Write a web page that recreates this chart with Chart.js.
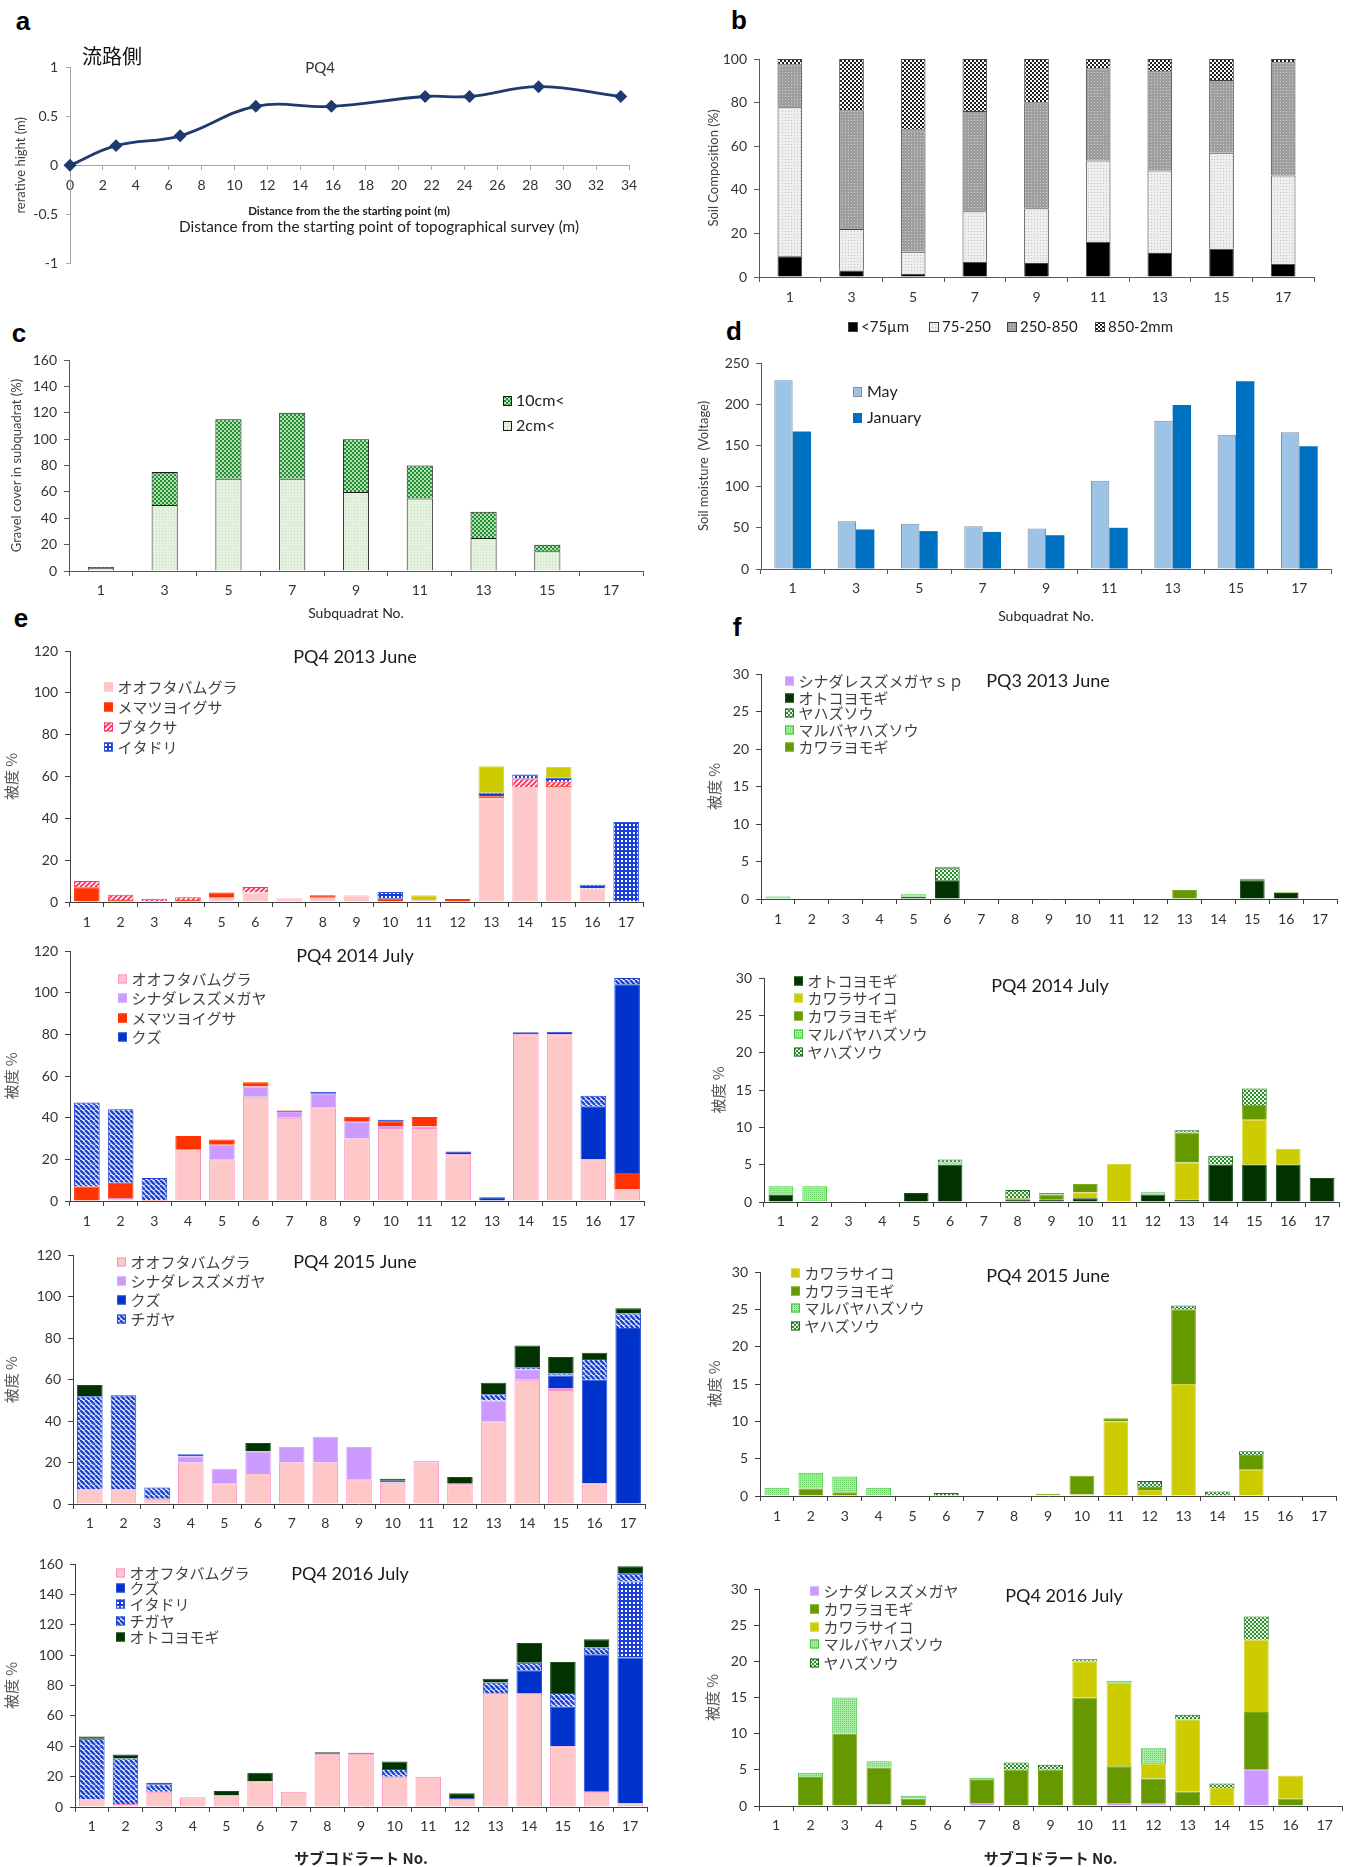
<!DOCTYPE html>
<html><head><meta charset="utf-8">
<script src="https://cdn.jsdelivr.net/npm/chart.js@4.4.1/dist/chart.umd.min.js"></script>
<style>
html,body{margin:0;padding:0;background:#fff;}
body{position:relative;width:1352px;height:1867px;overflow:hidden;}
.lbl{position:absolute;font:bold 26px "Liberation Sans",Arial,sans-serif;color:#000;transform:translate(-50%,-50%);line-height:1;}
</style></head><body>
<div class="lbl" style="left:23px;top:21px">a</div>
<div class="lbl" style="left:739px;top:20px">b</div>
<div class="lbl" style="left:19px;top:333px">c</div>
<div class="lbl" style="left:734px;top:331px">d</div>
<div class="lbl" style="left:21px;top:618px">e</div>
<div class="lbl" style="left:737px;top:627px">f</div>
<script>
// ---------------- DATA ----------------
// a: topographic profile
const distX = [0, 2.8, 6.7, 11.3, 15.9, 21.6, 24.3, 28.5, 33.5];
const relHeight = [0, 0.2, 0.3, 0.6, 0.6, 0.7, 0.7, 0.8, 0.7];
// b, c, d categories
const subquadratsOdd = ['1','3','5','7','9','11','13','15','17'];
const subquadrats = ['1','2','3','4','5','6','7','8','9','10','11','12','13','14','15','16','17'];
// b: soil composition (%)
const soilLt75 = [9.5, 3, 1.5, 7, 6.4, 16.2, 11, 13, 6.1];
const soil75to250 = [68.4, 19, 10.1, 23.2, 25.1, 37.2, 37.9, 44, 40.5];
const soil250to850 = [19.7, 54.5, 56.2, 46, 48.7, 42.3, 45.5, 33.4, 51.9];
const soil850to2mm = [2.4, 23.5, 32.2, 23.8, 19.8, 4.3, 5.6, 9.6, 1.5];
// c: gravel cover (%)
const gravel2cm = [2, 50, 70, 70, 60, 55, 25, 15, 0];
const gravel10cm = [1, 25, 45, 50, 40, 25, 20, 5, 0];
// d: soil moisture
const moistMay = [229, 58, 55, 52, 49, 107, 180, 163, 166];
const moistJan = [167, 48, 46, 45, 41, 50, 199, 228, 149];
// e: PQ4 2013 June
const e13_oofuta = [0,0,0,0,2,4.5,1.8,2,3.2,0,1,0,49.5,55,55,6.5,0];
const e13_memat = [7,1,0.3,1,2.5,0,0,1.2,0,1.5,0,1.4,1,0,0.5,0,0];
const e13_butakusa = [3,2.5,1.3,1.3,0,2.7,0,0,0,0,0,0,0,4,2,0,0];
const e13_itadori = [0,0,0,0,0,0,0,0,0,3.3,0,0,1.7,2,2,1.7,38.2];
const e13_kawarasaiko = [0,0,0,0,0,0,0,0,0,0,2.2,0,12.7,0,5,0,0];
// e: PQ4 2014 July
const e14_oofuta = [0,1.5,0,25,20,50,40,45,30,35,35,22.5,0,80,80,20,5.5];
const e14_shinadare = [0,0,0,0,7,5,2.7,6.5,8,1,0.8,0,0,0,0,0,0];
const e14_memat = [7,7.3,0.5,6.2,2.5,2,0.8,0,2.5,2,4.5,0,0,0,0,0,8];
const e14_kuzu = [0,0,0,0,0,0,0,1,0,1,0,1.3,1.8,1,1.3,25.5,90.5];
const e14_chigaya = [40.3,35.2,10.5,0,0,0,0,0,0,0,0,0,0,0,0,5,3];
// e: PQ4 2015 June
const e15_oofuta = [7,7,2.5,20,10,15,20,20,12,10,20,9.5,40,60,55,10,0];
const e15_shinadare = [0,0,0,3,7,10.5,7.5,12.5,15.5,0.5,0.7,0,10,5,1,0,0];
const e15_kuzu = [0,0,0,1,0,0,0,0,0,0.7,0,0.5,0,0,6,50,85];
const e15_chigaya = [45,45.5,5.5,0,0,0,0,0,0,0,0,0,3,1,1,10,7];
const e15_otoko = [5.5,0,0,0,0,4,0,0,0,1,0,3,5.5,10.5,8,3,2.5];
// e: PQ4 2016 July
const e16_oofuta = [5,2,10,6.5,7.5,17,10,35,35,20,20,5,75,75,40,10,2.5];
const e16_kuzu = [0,0,0,0,0,0,0,0,0,0,0,1,0,15,26,90.5,96];
const e16_itadori = [0,0,0,0,0,0,0,0,0,0,0,0,0,0,0,0,50];
const e16_chigaya = [40,30,5,0,0,0,0,0,0,5,0,0,7,5,9,4.5,5];
const e16_otoko = [1.5,2.5,1,0,3,5.5,0,1,0.8,5,0,3,2.5,13,20.5,5.5,5];
// f: PQ3 2013 June
const f13_shinadare = [0,0,0,0,0,0,0,0,0,0,0,0,0,0,0,0,0];
const f13_otoko = [0,0,0,0,0.3,2.5,0,0,0,0,0,0,0,0,2.5,0.8,0];
const f13_yahazu = [0,0,0,0,0,1.6,0,0,0,0,0,0,0,0,0,0,0];
const f13_maruba = [0.35,0,0,0,0.35,0,0,0,0,0,0,0,0,0,0,0,0];
const f13_kawarayomogi = [0,0,0,0,0,0.2,0,0,0,0,0,0,1.2,0,0.2,0.1,0];
// f: PQ4 2014 July
const f14_otoko = [1,0,0,0,1.2,5,0,0.3,0.3,0.5,0,1,0.3,5,5,5,3.2];
const f14_kawarasaiko = [0,0,0,0,0,0,0,0,0,0.8,5.1,0,5,0,6,2.1,0];
const f14_kawarayomogi = [0,0,0.1,0,0,0,0,0.2,0.7,1.1,0,0,4,0,2,0,0];
const f14_maruba = [1.1,2.1,0,0,0,0.3,0,0,0,0,0,0.3,0,0,0,0,0];
const f14_yahazu = [0,0,0,0,0,0.4,0,1.1,0.2,0,0,0,0.3,1.2,2.2,0,0];
// f: PQ4 2015 June
const f15_kawarasaiko = [0,0,0,0,0,0,0,0,0.1,0.2,10,0.8,15,0,3.5,0,0];
const f15_kawarayomogi = [0,1,0.5,0,0,0,0,0,0.2,2.5,0.4,0.4,10,0,2,0,0];
const f15_maruba = [1.1,2.1,2.1,1.1,0,0,0,0,0,0,0,0,0,0,0,0,0];
const f15_yahazu = [0,0,0,0,0,0.4,0,0,0,0,0,0.8,0.5,0.6,0.5,0,0];
// f: PQ4 2016 July
const f16_shinadare = [0,0,0,0.2,0,0,0.4,0,0,0,0.4,0.3,0,0,5,0,0];
const f16_kawarayomogi = [0.1,4,10,5.1,1,0,3.2,5,5,15,5.1,3.5,2,0,8,1,0];
const f16_kawarasaiko = [0,0,0,0,0,0,0,0,0,5,11.5,2,10,2.5,10,3.2,0];
const f16_maruba = [0,0.6,5,0.9,0.4,0,0.3,0,0,0,0.3,2.2,0,0,0,0,0];
const f16_yahazu = [0,0,0,0,0,0,0,1,0.7,0.3,0,0,0.6,0.6,3.2,0,0];

// ---------------- HELPERS ----------------
const FONT = 'Lato, "Noto Sans CJK JP", sans-serif';
const JFONT = '"Noto Sans CJK JP", Lato, sans-serif';
const TS = 14;
Chart.defaults.font.family = FONT;
Chart.defaults.color = '#404040';
Chart.defaults.animation = false;

function pattern(bg, fg, kind, s, lw) {
  const c = document.createElement('canvas');
  c.width = s; c.height = s;
  const g = c.getContext('2d');
  g.fillStyle = bg; g.fillRect(0, 0, s, s);
  g.fillStyle = fg; g.strokeStyle = fg;
  if (kind === 'diagR' || kind === 'diagL') {
    g.lineWidth = lw || s * 0.35;
    g.beginPath();
    for (let k = -1; k <= 1; k++) {
      if (kind === 'diagR') { g.moveTo(k * s, s); g.lineTo(k * s + s, 0); }
      else { g.moveTo(k * s, 0); g.lineTo(k * s + s, s); }
    }
    g.stroke();
  } else if (kind === 'dots') {
    g.fillRect(0, 0, 1, 1);
  } else if (kind === 'sq') {
    const d = Math.round(s / 2);
    g.fillRect(1, 1, d, d);
  } else if (kind === 'checker') {
    g.fillRect(0, 0, s / 2, s / 2); g.fillRect(s / 2, s / 2, s / 2, s / 2);
  }
  return g.createPattern(c, 'repeat');
}

function place(box) {
  const c = document.createElement('canvas');
  c.width = box.w; c.height = box.h;
  c.style.cssText = 'position:absolute;left:' + box.l + 'px;top:' + box.t + 'px;width:' + box.w + 'px;height:' + box.h + 'px;';
  document.body.appendChild(c);
  return c;
}

function drawText(ctx, s, x, y, font, color, align) {
  ctx.save();
  ctx.font = font; ctx.fillStyle = color; ctx.textAlign = align || 'center'; ctx.textBaseline = 'middle';
  ctx.fillText(s, x, y);
  ctx.restore();
}

function decor(box, cfg) {
  return {
    id: 'decor',
    afterDraw(chart) {
      if (!cfg) return;
      const ctx = chart.ctx;
      ctx.save();
      (cfg.texts || []).forEach(t => drawText(ctx, t.text, t.x - box.l, t.y - box.t, t.font, t.color || '#1a1a1a', t.align || 'center'));
      const lg = cfg.legend;
      if (lg) {
        lg.items.forEach((di, i) => {
          const ds = chart.data.datasets[di];
          const bx = (lg.xs ? lg.xs[i] : lg.x) - box.l;
          const by = (lg.ys ? lg.ys[i] : lg.y) - box.t;
          ctx.fillStyle = ds.backgroundColor;
          ctx.fillRect(bx, by - lg.h / 2, lg.w, lg.h);
          if (ds.swatchBorder) {
            ctx.strokeStyle = ds.swatchBorder; ctx.lineWidth = 1;
            ctx.strokeRect(bx + 0.5, by - lg.h / 2 + 0.5, lg.w - 1, lg.h - 1);
          }
          drawText(ctx, ds.label, bx + lg.w + (lg.gap || 3), by, lg.font, lg.color || '#404040', 'left');
        });
      }
      ctx.restore();
    }
  };
}

function sds(label, values, st) {
  return {
    label: label,
    data: values.map(v => (v === 0 ? null : v)),
    backgroundColor: st.fill,
    borderColor: st.border || st.fill,
    borderWidth: st.bw === undefined ? 1 : st.bw,
    swatchBorder: st.border || null
  };
}

function barPanel(P) {
  const box = P.box, area = P.area;
  const canvas = place(box);
  const ax = P.axisColor || '#404040';
  const xTitle = P.xTitle ? {
    display: true, text: P.xTitle.text, color: '#262626',
    font: { size: P.xTitle.size, weight: P.xTitle.bold ? 'bold' : 'normal', family: P.xTitle.family || FONT },
    padding: { top: 0, bottom: box.t + box.h - P.xTitle.y - P.xTitle.size * 0.6 }
  } : { display: false };
  const yTitle = {
    display: true, text: P.yTitle.text, color: P.yTitle.color || '#404040',
    font: { size: P.yTitle.size, family: P.yTitle.family || FONT },
    padding: { top: P.yTitle.x - box.l - P.yTitle.size * 0.6, bottom: 0 }
  };
  P.datasets.forEach(d => { d.barPercentage = P.bar; d.categoryPercentage = P.cat || 1; });
  const stacked = P.stacked !== false;
  return new Chart(canvas, {
    type: 'bar',
    data: { labels: P.labels, datasets: P.datasets },
    options: {
      responsive: false, animation: false,
      layout: { padding: { left: 0, bottom: 0, top: area.t - box.t, right: box.l + box.w - area.r } },
      plugins: { legend: { display: false }, tooltip: { enabled: false } },
      scales: {
        x: {
          stacked: stacked,
          grid: { display: true, offset: true, drawOnChartArea: false, drawTicks: true, tickLength: 5, color: ax },
          border: { display: true, color: ax, width: 1 },
          ticks: { font: { size: TS }, color: '#333', padding: P.tickY - area.b - 5 - TS * 0.6, maxRotation: 0, minRotation: 0, autoSkip: false },
          title: xTitle,
          afterFit: s => { s.height = box.t + box.h - area.b; }
        },
        y: {
          stacked: stacked, min: 0, max: P.ymax,
          ticks: { stepSize: P.step, font: { size: TS }, color: '#333', padding: 7 },
          grid: { display: true, drawOnChartArea: false, drawTicks: true, tickLength: 5, color: ax },
          border: { display: true, color: ax, width: 1 },
          title: yTitle,
          afterFit: s => { s.width = area.l - box.l; }
        }
      }
    },
    plugins: [decor(box, P.decor)]
  });
}

// ---------------- STYLES ----------------
const ST = {
  oofuta: { fill: '#ffc8c8', border: '#ff8fbf' },
  oofuta13: { fill: '#ffc8c8', border: '#ffc0c8' },
  memat: { fill: '#ff3300', border: '#ff3300' },
  butakusa: { fill: pattern('#ff3366', '#ffffff', 'diagR', 5, 1.6), border: '#ff3366' },
  itadori: { fill: pattern('#1a3fd6', '#ffffff', 'sq', 4), border: '#3355dd' },
  kawarasaiko: { fill: '#cccc00', border: '#d6d640' },
  shinadare: { fill: '#cc99ff', border: '#d4aaff' },
  kuzu: { fill: '#0033cc', border: '#2a50d8' },
  chigaya: { fill: pattern('#ffffff', '#2045d0', 'diagL', 5, 2.6), border: '#2045d0' },
  otoko: { fill: '#003300', border: '#1a4d1a' },
  kawarayomogi: { fill: '#669900', border: '#7aab1a' },
  maruba: { fill: pattern('#a6eca2', '#6fd36a', 'dots', 2), border: '#33cc33' },
  yahazu: { fill: pattern('#2e8b2e', '#e6f5e6', 'checker', 4), border: '#1f6f1f' }
};

// ---------------- PANEL a ----------------
(function () {
  const box = { l: 0, t: 40, w: 680, h: 240 };
  const area = { l: 70, t: 67, r: 629, b: 259 };
  const canvas = place(box);
  const ax = '#a6a6a6';
  new Chart(canvas, {
    type: 'line',
    data: {
      datasets: [{
        label: 'PQ4',
        data: distX.map((x, i) => ({ x: x, y: relHeight[i] })),
        borderColor: '#1f3a6e', backgroundColor: '#1f3a6e',
        borderWidth: 2.8, tension: 0.4,
        pointStyle: 'rectRot', pointRadius: 4.5, pointBackgroundColor: '#1f3a6e', pointBorderColor: '#1f3a6e',
        clip: false
      }]
    },
    options: {
      responsive: false, animation: false,
      layout: { padding: { left: 0, bottom: 0, top: area.t - box.t, right: box.l + box.w - area.r } },
      plugins: { legend: { display: false }, tooltip: { enabled: false } },
      scales: {
        x: {
          type: 'linear', min: 0, max: 34, position: { y: 0 },
          ticks: { stepSize: 2, font: { size: TS }, color: '#333', padding: 183 - 163 - 4 - TS * 0.6, maxRotation: 0 },
          grid: { display: true, drawOnChartArea: false, drawTicks: true, tickLength: 4, color: ax },
          border: { display: true, color: ax },
          afterFit: s => { s.height = box.t + box.h - area.b; }
        },
        y: {
          type: 'linear', min: -1, max: 1,
          ticks: { stepSize: 0.5, font: { size: TS }, color: '#333', padding: 8, callback: v => String(v) },
          grid: { display: true, drawOnChartArea: false, drawTicks: true, tickLength: 4, color: ax },
          border: { display: true, color: ax },
          title: { display: true, text: 'rerative hight (m)', color: '#404040', font: { size: 13 }, padding: { top: 21 - 7.8, bottom: 0 } },
          afterFit: s => { s.width = area.l - box.l; }
        }
      }
    },
    plugins: [decor(box, {
      texts: [
        { text: '流路側', x: 112, y: 56, font: '20px ' + JFONT, color: '#111' },
        { text: 'PQ4', x: 320, y: 68, font: '15px ' + FONT, color: '#333' },
        { text: 'Distance from the the starting point (m)', x: 349, y: 211, font: 'bold 11.5px ' + FONT, color: '#222' },
        { text: 'Distance from the starting point of topographical survey (m)', x: 379, y: 227, font: '15.3px ' + FONT, color: '#222' }
      ]
    })]
  });
})();

// ---------------- PANEL b ----------------
barPanel({
  box: { l: 680, t: 30, w: 672, h: 310 },
  area: { l: 759, t: 59, r: 1314, b: 277 },
  labels: subquadratsOdd, bar: 0.4, ymax: 100, step: 20, tickY: 297, axisColor: '#595959',
  yTitle: { text: 'Soil Composition (%)', x: 714, size: 13 },
  datasets: [
    sds('<75µm', soilLt75, { fill: '#000000', border: '#404040' }),
    sds('75-250', soil75to250, { fill: pattern('#eeeeee', '#c4c4c4', 'dots', 3), border: '#404040' }),
    sds('250-850', soil250to850, { fill: pattern('#9e9e9e', '#cdcdcd', 'dots', 3), border: '#404040' }),
    sds('850-2mm', soil850to2mm, { fill: pattern('#1e1e1e', '#ffffff', 'checker', 4), border: '#404040' })
  ],
  decor: { legend: { items: [0, 1, 2, 3], xs: [848, 929, 1007, 1095], ys: [327, 327, 327, 327], w: 10, h: 10, gap: 3, font: '15px ' + FONT, color: '#222' } }
});

// ---------------- PANEL c ----------------
barPanel({
  box: { l: 0, t: 330, w: 680, h: 300 },
  area: { l: 69, t: 360, r: 643, b: 571 },
  labels: subquadratsOdd, bar: 0.41, ymax: 160, step: 20, tickY: 590, axisColor: '#595959',
  yTitle: { text: 'Gravel cover in subquadrat (%)', x: 17, size: 13 },
  xTitle: { text: 'Subquadrat No.', y: 613, size: 14 },
  datasets: [
    sds('2cm<', gravel2cm, { fill: pattern('#e6f2e0', '#c3ddb8', 'dots', 3), border: '#1a1a1a' }),
    sds('10cm<', gravel10cm, { fill: pattern('#1f8c3b', '#b7e3aa', 'checker', 4), border: '#1a1a1a' })
  ],
  decor: { legend: { items: [1, 0], xs: [503, 503], ys: [401, 426], w: 9, h: 10, gap: 4, font: '16px ' + FONT, color: '#222' } }
});

// ---------------- PANEL d ----------------
barPanel({
  box: { l: 680, t: 330, w: 672, h: 300 },
  area: { l: 761, t: 363, r: 1331, b: 569 },
  labels: subquadratsOdd, bar: 1, cat: 0.58, stacked: false, ymax: 250, step: 50, tickY: 588, axisColor: '#595959',
  yTitle: { text: 'Soil moisture  (Voltage)', x: 704, size: 13 },
  xTitle: { text: 'Subquadrat No.', y: 616, size: 14 },
  datasets: [
    sds('May', moistMay, { fill: '#9dc3e6', border: '#7f8f9f' }),
    sds('January', moistJan, { fill: '#0070c0', border: '#0070c0', bw: 0 })
  ],
  decor: { legend: { items: [0, 1], xs: [853, 853], ys: [392, 418], w: 9, h: 10, gap: 5, font: '16px ' + FONT, color: '#222' } }
});

// ---------------- PANEL e ----------------
const legE = (x, ys, items) => ({ items: items, xs: ys.map(() => x), ys: ys, w: 9, h: 9, gap: 4.5, font: '15px ' + JFONT, color: '#404040' });
const yTitleE = x => ({ text: '被度 %', x: x, size: 15, color: '#595959', family: JFONT });
const titleFont = '18px ' + FONT;

barPanel({
  box: { l: 0, t: 635, w: 680, h: 300 },
  area: { l: 70, t: 651, r: 643, b: 902 },
  labels: subquadrats, bar: 0.76, ymax: 120, step: 20, tickY: 922,
  yTitle: yTitleE(11),
  datasets: [
    sds('オオフタバムグラ', e13_oofuta, ST.oofuta13),
    sds('メマツヨイグサ', e13_memat, ST.memat),
    sds('ブタクサ', e13_butakusa, ST.butakusa),
    sds('イタドリ', e13_itadori, ST.itadori),
    sds('カワラサイコ', e13_kawarasaiko, ST.kawarasaiko)
  ],
  decor: {
    texts: [{ text: 'PQ4 2013 June', x: 355, y: 657, font: titleFont }],
    legend: legE(104, [687, 707, 727, 747], [0, 1, 2, 3])
  }
});

barPanel({
  box: { l: 0, t: 935, w: 680, h: 300 },
  area: { l: 70, t: 951, r: 644, b: 1201 },
  labels: subquadrats, bar: 0.76, ymax: 120, step: 20, tickY: 1221,
  yTitle: yTitleE(11),
  datasets: [
    sds('オオフタバムグラ', e14_oofuta, ST.oofuta),
    sds('シナダレスズメガヤ', e14_shinadare, ST.shinadare),
    sds('メマツヨイグサ', e14_memat, ST.memat),
    sds('クズ', e14_kuzu, ST.kuzu),
    sds('チガヤ', e14_chigaya, ST.chigaya)
  ],
  decor: {
    texts: [{ text: 'PQ4 2014 July', x: 355, y: 956, font: titleFont }],
    legend: legE(118, [979, 998, 1018, 1037], [0, 1, 2, 3])
  }
});

barPanel({
  box: { l: 0, t: 1240, w: 680, h: 300 },
  area: { l: 73, t: 1255, r: 645, b: 1504 },
  labels: subquadrats, bar: 0.76, ymax: 120, step: 20, tickY: 1523,
  yTitle: yTitleE(11),
  datasets: [
    sds('オオフタバムグラ', e15_oofuta, ST.oofuta),
    sds('シナダレスズメガヤ', e15_shinadare, ST.shinadare),
    sds('クズ', e15_kuzu, ST.kuzu),
    sds('チガヤ', e15_chigaya, ST.chigaya),
    sds('オトコヨモギ', e15_otoko, ST.otoko)
  ],
  decor: {
    texts: [{ text: 'PQ4 2015 June', x: 355, y: 1262, font: titleFont }],
    legend: legE(117, [1262, 1281, 1300, 1319], [0, 1, 2, 3])
  }
});

barPanel({
  box: { l: 0, t: 1545, w: 680, h: 322 },
  area: { l: 75, t: 1564, r: 647, b: 1807 },
  labels: subquadrats, bar: 0.76, ymax: 160, step: 20, tickY: 1826,
  yTitle: yTitleE(11),
  xTitle: { text: 'サブコドラート No.', y: 1858, size: 15, bold: true, family: JFONT },
  datasets: [
    sds('オオフタバムグラ', e16_oofuta, ST.oofuta),
    sds('クズ', e16_kuzu, ST.kuzu),
    sds('イタドリ', e16_itadori, ST.itadori),
    sds('チガヤ', e16_chigaya, ST.chigaya),
    sds('オトコヨモギ', e16_otoko, ST.otoko)
  ],
  decor: {
    texts: [{ text: 'PQ4 2016 July', x: 350, y: 1574, font: titleFont }],
    legend: legE(116, [1573, 1588, 1604, 1621, 1637], [0, 1, 2, 3, 4])
  }
});

// ---------------- PANEL f ----------------
barPanel({
  box: { l: 680, t: 640, w: 672, h: 295 },
  area: { l: 761, t: 674, r: 1337, b: 899 },
  labels: subquadrats, bar: 0.73, ymax: 30, step: 5, tickY: 919,
  yTitle: yTitleE(714),
  datasets: [
    sds('シナダレスズメガヤｓｐ', f13_shinadare, ST.shinadare),
    sds('オトコヨモギ', f13_otoko, ST.otoko),
    sds('ヤハズソウ', f13_yahazu, ST.yahazu),
    sds('マルバヤハズソウ', f13_maruba, ST.maruba),
    sds('カワラヨモギ', f13_kawarayomogi, ST.kawarayomogi)
  ],
  decor: {
    texts: [{ text: 'PQ3 2013 June', x: 1048, y: 681, font: titleFont }],
    legend: legE(785, [681, 698, 713, 730, 747], [0, 1, 2, 3, 4])
  }
});

barPanel({
  box: { l: 680, t: 940, w: 672, h: 295 },
  area: { l: 764, t: 978, r: 1339, b: 1202 },
  labels: subquadrats, bar: 0.73, ymax: 30, step: 5, tickY: 1221,
  yTitle: yTitleE(718),
  datasets: [
    sds('オトコヨモギ', f14_otoko, ST.otoko),
    sds('カワラサイコ', f14_kawarasaiko, ST.kawarasaiko),
    sds('カワラヨモギ', f14_kawarayomogi, ST.kawarayomogi),
    sds('マルバヤハズソウ', f14_maruba, ST.maruba),
    sds('ヤハズソウ', f14_yahazu, ST.yahazu)
  ],
  decor: {
    texts: [{ text: 'PQ4 2014 July', x: 1050, y: 986, font: titleFont }],
    legend: legE(794, [981, 998, 1016, 1034, 1052], [0, 1, 2, 3, 4])
  }
});

barPanel({
  box: { l: 680, t: 1240, w: 672, h: 300 },
  area: { l: 760, t: 1272, r: 1336, b: 1496 },
  labels: subquadrats, bar: 0.73, ymax: 30, step: 5, tickY: 1516,
  yTitle: yTitleE(714),
  datasets: [
    sds('カワラサイコ', f15_kawarasaiko, ST.kawarasaiko),
    sds('カワラヨモギ', f15_kawarayomogi, ST.kawarayomogi),
    sds('マルバヤハズソウ', f15_maruba, ST.maruba),
    sds('ヤハズソウ', f15_yahazu, ST.yahazu)
  ],
  decor: {
    texts: [{ text: 'PQ4 2015 June', x: 1048, y: 1276, font: titleFont }],
    legend: legE(791, [1273, 1291, 1308, 1326], [0, 1, 2, 3])
  }
});

barPanel({
  box: { l: 680, t: 1545, w: 672, h: 322 },
  area: { l: 759, t: 1589, r: 1342, b: 1806 },
  labels: subquadrats, bar: 0.73, ymax: 30, step: 5, tickY: 1825,
  yTitle: yTitleE(712),
  xTitle: { text: 'サブコドラート No.', y: 1858, size: 15, bold: true, family: JFONT },
  datasets: [
    sds('シナダレスズメガヤ', f16_shinadare, ST.shinadare),
    sds('カワラヨモギ', f16_kawarayomogi, ST.kawarayomogi),
    sds('カワラサイコ', f16_kawarasaiko, ST.kawarasaiko),
    sds('マルバヤハズソウ', f16_maruba, ST.maruba),
    sds('ヤハズソウ', f16_yahazu, ST.yahazu)
  ],
  decor: {
    texts: [{ text: 'PQ4 2016 July', x: 1064, y: 1596, font: titleFont }],
    legend: legE(810, [1591, 1609, 1627, 1644, 1663], [0, 1, 2, 3, 4])
  }
});
</script>
</body></html>
